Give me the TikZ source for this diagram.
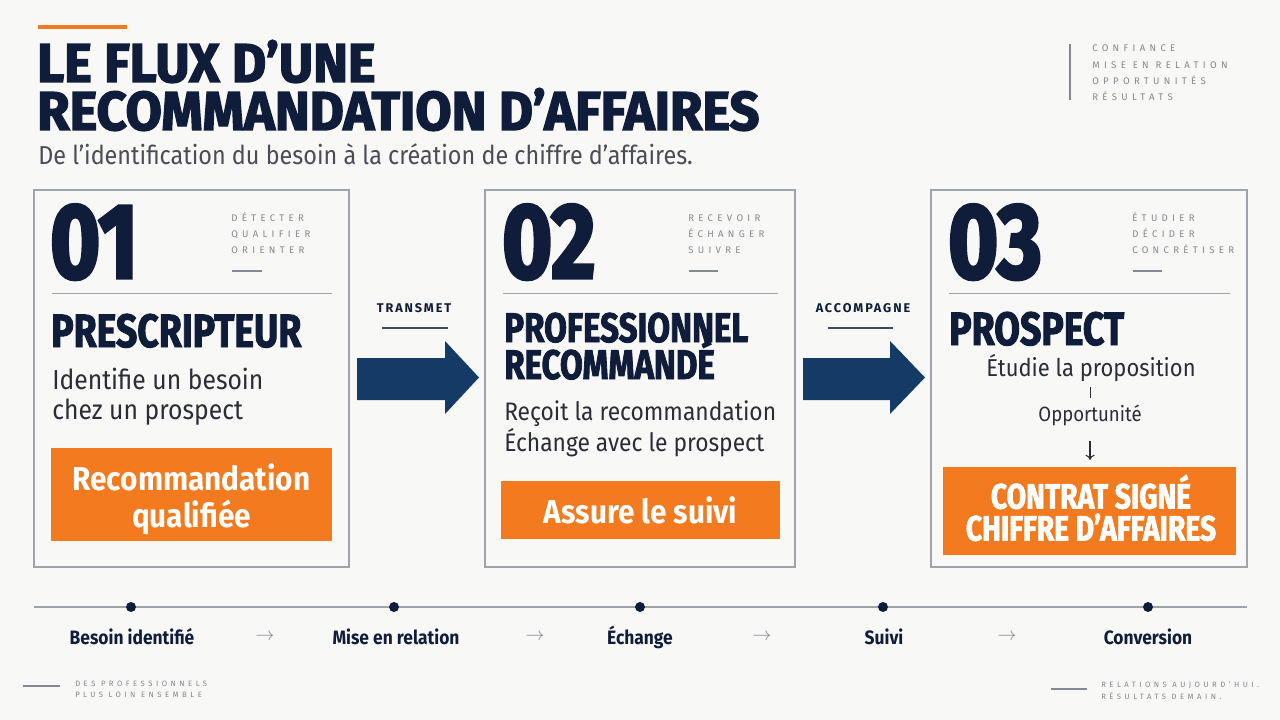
\documentclass[tikz,border=0pt]{standalone}
\usepackage{fontspec}
\usetikzlibrary{arrows.meta}
\setmainfont{Fira Sans}
\newfontfamily\heavy[FakeStretch=0.8,BoldFeatures={FakeBold=2}]{Fira Sans}
\newfontfamily\titlef[FakeStretch=0.96,BoldFeatures={FakeBold=2.6}]{Fira Sans}
\newfontfamily\numf[FakeStretch=0.8,BoldFeatures={FakeBold=3}]{Fira Sans}
\newfontfamily\cond[FakeStretch=0.9]{Fira Sans}
\newfontfamily\spaced[LetterSpace=45]{Fira Sans}
\newfontfamily\spacedb[LetterSpace=15]{Fira Sans}
\definecolor{navy}{HTML}{0F1D3B}
\definecolor{arrowblue}{HTML}{143B65}
\definecolor{orangec}{HTML}{F47A1F}
\definecolor{bg}{HTML}{F8F8F6}
\definecolor{txt}{HTML}{2A2D35}
\definecolor{subgray}{HTML}{4A4D55}
\definecolor{lightgray}{HTML}{85888E}
\definecolor{bordergray}{HTML}{9FA3AA}
\begin{document}
\begin{tikzpicture}[x=0.75pt,y=-0.75pt,
  card/.style={draw=bordergray,line width=0.8pt},
  obox/.style={fill=orangec},
  bignum/.style={anchor=base west,inner sep=0,text=navy,font=\numf\bfseries\fontsize{80}{80}\selectfont},
  role/.style={anchor=base west,inner sep=0,text=navy,font=\heavy\bfseries\fontsize{35}{35}\selectfont},
  body/.style={anchor=base west,inner sep=0,text=txt,font=\cond\fontsize{19.5}{20}\selectfont},
  otext/.style={inner sep=0,text=white,align=center,font=\cond\bfseries\fontsize{24.8}{28}\selectfont},
  small/.style={anchor=base west,inner sep=0,text=lightgray,font=\spaced\fontsize{7.2}{8}\selectfont},
  foot/.style={anchor=base west,inner sep=0,text=lightgray,font=\spaced\fontsize{5.8}{6}\selectfont},
  tl/.style={anchor=base,inner sep=0,text=navy,font=\cond\bfseries\fontsize{14.5}{15}\selectfont},
  tarr/.style={anchor=base,inner sep=0,text=lightgray,font=\fontsize{14}{14}\selectfont},
  dot/.style={circle,fill=navy,inner sep=0,minimum size=7.5pt},
  rule/.style={draw=bordergray,line width=0.7pt},
  bigarrow/.style={fill=arrowblue},
  tight/.style={text height=0.7em,text depth=0pt}
]
\useasboundingbox (0,0) rectangle (1280,720);
\fill[bg] (0,0) rectangle (1280,720);

% header
\fill[orangec] (38,25.5) rectangle (127,29);
\node[tight,anchor=base west,inner sep=0,text=navy,font=\titlef\bfseries\fontsize{41}{41}\selectfont] (t1) at (37,82) {LE FLUX D’UNE};
\node[tight,anchor=base west,inner sep=0,text=navy,font=\titlef\bfseries\fontsize{41}{41}\selectfont] (t2) at (37,130) {RECOMMANDATION D’AFFAIRES};
\node[anchor=base west,inner sep=0,text=subgray,font=\cond\fontsize{19.5}{20}\selectfont] (sub) at (38,165) {De l’identification du besoin à la création de chiffre d’affaires.};

\draw[lightgray,line width=0.8pt] (1070,44) -- (1070,100);
\node[small] (k1) at (1092,52) {CONFIANCE};
\node[small] (k2) at (1092,68.5) {MISE EN RELATION};
\node[small] (k3) at (1092,84.5) {OPPORTUNITÉS};
\node[small] (k4) at (1092,101) {RÉSULTATS};

% cards
\draw[card] (34,190) rectangle (349,567);
\draw[card] (485,190) rectangle (795,567);
\draw[card] (931,190) rectangle (1247,567);

% card 1
\node[bignum] (n1) at (50,278) {01};
\node[small] (s11) at (231,222) {DÉTECTER};
\node[small] (s12) at (231,237.5) {QUALIFIER};
\node[small] (s13) at (231,253) {ORIENTER};
\draw[lightgray,line width=0.8pt] (232,271) -- (262,271);
\draw[rule] (52,293) -- (332,293);
\node[role] (r1) at (51,347) {PRESCRIPTEUR};
\node[body,font=\cond\fontsize{20.6}{21}\selectfont] (b11) at (52,389) {Identifie un besoin};
\node[body,font=\cond\fontsize{20.6}{21}\selectfont] (b12) at (52,419) {chez un prospect};
\fill[obox] (51,448) rectangle (332,541);
\node[otext] (o1) at (191.5,499) {Recommandation\\qualifiée};

% card 2
\node[bignum] (n2) at (502,278) {02};
\node[small] (s21) at (688,222) {RECEVOIR};
\node[small] (s22) at (688,237.5) {ÉCHANGER};
\node[small] (s23) at (688,253) {SUIVRE};
\draw[lightgray,line width=0.8pt] (689,271) -- (718,271);
\draw[rule] (503,293) -- (778,293);
\node[role,tight,font=\heavy\bfseries\fontsize{31}{31}\selectfont] (r21) at (504,342) {PROFESSIONNEL};
\node[role,tight,font=\heavy\bfseries\fontsize{31}{31}\selectfont] (r22) at (504,379) {RECOMMANDÉ};
\node[body,font=\cond\fontsize{19}{20}\selectfont] (b21) at (504,420) {Reçoit la recommandation};
\node[body,font=\cond\fontsize{19}{20}\selectfont] (b22) at (504,451) {Échange avec le prospect};
\fill[obox] (501,481) rectangle (780,539);
\node[otext] (o2) at (640.5,510) {Assure le suivi};

% card 3
\node[bignum] (n3) at (948,278) {03};
\node[small] (s31) at (1132,222) {ÉTUDIER};
\node[small] (s32) at (1132,237.5) {DÉCIDER};
\node[small] (s33) at (1132,253) {CONCRÉTISER};
\draw[lightgray,line width=0.8pt] (1133,271) -- (1162,271);
\draw[rule] (949,293) -- (1230,293);
\node[role] (r3) at (949,345) {PROSPECT};
\node[body,anchor=base,font=\cond\fontsize{18.3}{19}\selectfont] (b31) at (1091,376) {Étudie la proposition};
\node[body,anchor=base,font=\cond\fontsize{15.5}{16}\selectfont] (b32) at (1090,421) {Opportunité};
\draw[txt,line width=0.6pt] (1090,387) -- (1090,398);
\coordinate (dtop) at (1090,441);
\coordinate (dbot) at (1090,460);
\draw[txt,line width=0.8pt,-{To[length=4pt,width=7pt]}] (dtop) -- (dbot);
\fill[obox] (943,467) rectangle (1236,555);
\node[otext,font=\heavy\bfseries\fontsize{26.5}{24}\selectfont] (o3) at (1091,508) {CONTRAT SIGNÉ\\CHIFFRE D’AFFAIRES};

% connectors between cards
\node[anchor=base,inner sep=0,text=navy,font=\spacedb\bfseries\fontsize{9.5}{10}\selectfont] (lab1) at (414,312) {TRANSMET};
\draw[navy!80,line width=0.8pt] (382,328) -- (448,328);
\fill[bigarrow] (357,358) -- (445,358) -- (445,341) -- (479,377.5) -- (445,414) -- (445,400) -- (357,400) -- cycle;
\node[anchor=base,inner sep=0,text=navy,font=\spacedb\bfseries\fontsize{9.5}{10}\selectfont] (lab2) at (863,312) {ACCOMPAGNE};
\draw[navy!80,line width=0.8pt] (828,328) -- (893,328);
\fill[bigarrow] (803,358) -- (890,358) -- (890,341) -- (925,377.5) -- (890,414) -- (890,400) -- (803,400) -- cycle;

% timeline
\coordinate (tlA) at (34,607);
\coordinate (tlB) at (1247,607);
\draw[bordergray,line width=0.9pt] (tlA) -- (tlB);
\node[dot] (d1) at (131,607) {};
\node[dot] (d2) at (394,607) {};
\node[dot] (d3) at (640,607) {};
\node[dot] (d4) at (883,607) {};
\node[dot] (d5) at (1148,607) {};
\node[tl] (l1) at (132,644) {Besoin identifié};
\node[tl] (l2) at (396,644) {Mise en relation};
\node[tl] (l3) at (640,644) {Échange};
\node[tl] (l4) at (884,644) {Suivi};
\node[tl] (l5) at (1148,644) {Conversion};
\node[tarr] (a1) at (265,640) {$\rightarrow$};
\node[tarr] (a2) at (535,640) {$\rightarrow$};
\node[tarr] (a3) at (762,640) {$\rightarrow$};
\node[tarr] (a4) at (1007,640) {$\rightarrow$};

% footer
\draw[lightgray,line width=0.8pt] (23,686) -- (60,686);
\node[foot] (f1) at (75,686) {DES PROFESSIONNELS};
\node[foot] (f2) at (75,697) {PLUS LOIN ENSEMBLE};
\draw[lightgray,line width=0.8pt] (1051,689) -- (1087,689);
\node[foot] (f3) at (1101,687) {RELATIONS AUJOURD’HUI.};
\node[foot] (f4) at (1101,699) {RÉSULTATS DEMAIN.};
\end{tikzpicture}
\end{document}
